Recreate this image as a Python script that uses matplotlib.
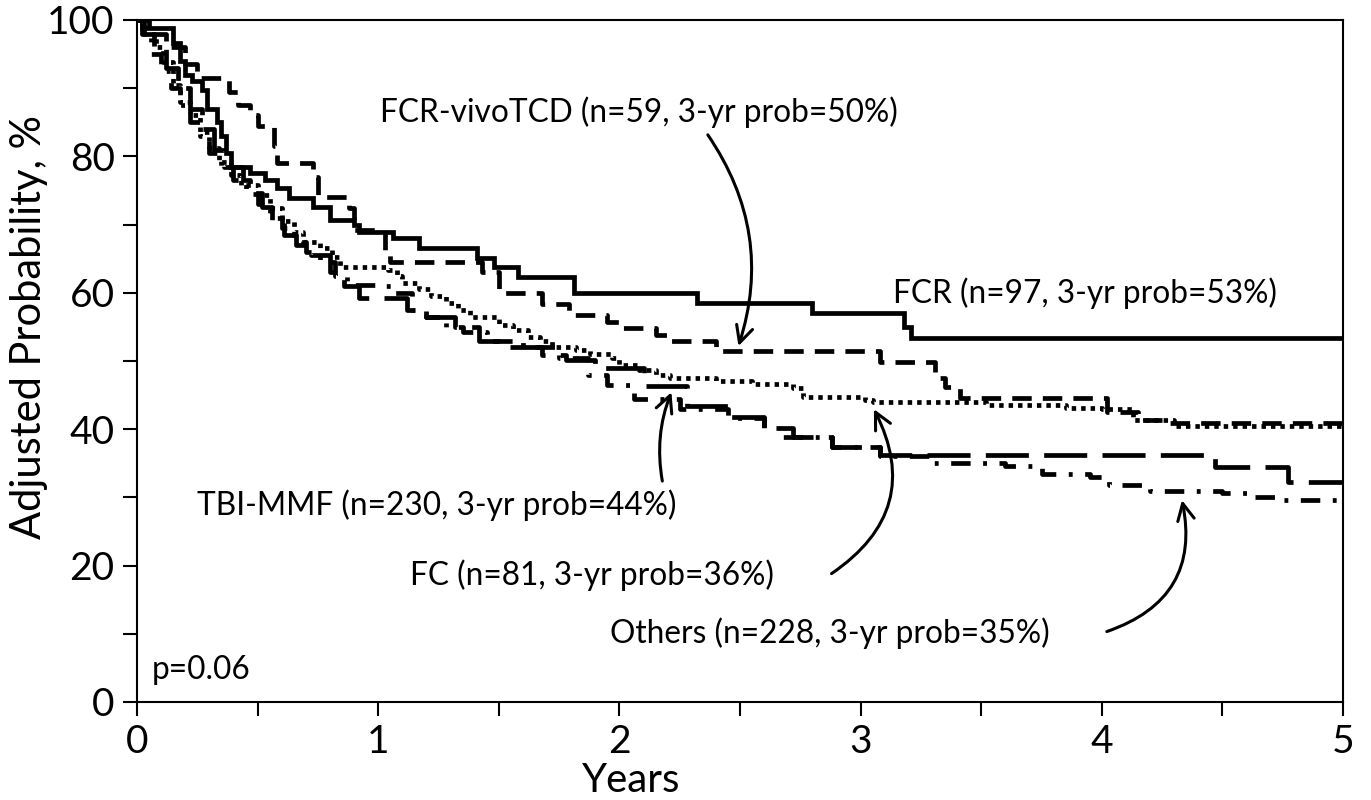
import matplotlib.pyplot as plt
import numpy as np

plt.rcParams['font.family'] = ['Lato', 'DejaVu Sans']
plt.rcParams['lines.scale_dashes'] = False

# Adjusted survival step curves (years, %)
fcr_t = [0, 0.02, 0.15, 0.18, 0.20, 0.23, 0.27, 0.29, 0.33, 0.35, 0.37, 0.39, 0.47, 0.53,
         0.58, 0.63, 0.73, 0.80, 0.90, 0.92, 1.06, 1.17, 1.41, 1.48, 1.58, 1.81, 2.32, 2.80,
         3.18, 3.21]
fcr_p = [100, 98.8, 96.6, 94, 92, 91, 89.7, 87, 85, 83, 80.5, 78.5, 77.6, 76.5,
         75.4, 73.9, 72.6, 70.7, 69.9, 68.9, 68, 66.6, 65.1, 63.8, 62.3, 60, 58.5, 57,
         55, 53.3]

vivo_t = [0, 0.05, 0.12, 0.20, 0.25, 0.38, 0.42, 0.47, 0.50, 0.57, 0.58, 0.73, 0.75, 0.88,
          0.90, 1.03, 1.05, 1.43, 1.50, 1.68, 1.79, 1.95, 2.00, 2.15, 2.21, 2.40, 3.08, 3.31,
          3.35, 3.41, 4.02, 4.15, 4.25]
vivo_p = [100, 98, 96, 93.5, 91.5, 89.5, 87.5, 86, 84.5, 81.5, 79, 77, 74, 72.4,
          69.2, 66.3, 64.5, 63, 60, 58.3, 56.7, 55.7, 54.8, 53.8, 53, 51.5, 49.9, 47.5,
          46.2, 44.6, 42.5, 41.4, 40.9]

tbi_t = [0, 0.02, 0.08, 0.11, 0.15, 0.18, 0.22, 0.26, 0.30, 0.34, 0.39, 0.43, 0.50, 0.55,
         0.60, 0.65, 0.69, 0.76, 0.81, 0.84, 1.04, 1.08, 1.10, 1.17, 1.22, 1.28, 1.33, 1.38,
         1.50, 1.56, 1.62, 1.67, 1.72, 1.82, 1.88, 1.97, 2.00, 2.08, 2.15, 2.21, 2.40, 2.55,
         2.72, 2.76, 3.02, 3.05, 3.52, 3.85, 4.00, 4.13, 4.30]
tbi_p = [100, 98, 96, 93.8, 90.5, 88, 86, 83.6, 81.2, 79.2, 77.3, 75.8, 74.3, 72.4,
         70.5, 68.9, 67.4, 66.5, 65.2, 63.8, 63.3, 62.5, 61.4, 60.5, 59.5, 58.5, 57.5, 56.5,
         55.3, 54.5, 53.5, 53, 52, 51.6, 51, 50.4, 49.4, 48.7, 48, 47.5, 47, 46.6,
         46, 44.7, 44.3, 44, 43.5, 43.1, 42.9, 41.4, 40.5]

fc_t = [0, 0.03, 0.07, 0.12, 0.17, 0.22, 0.27, 0.32, 0.36, 0.44, 0.47, 0.52, 0.56, 0.61,
        0.66, 0.72, 0.80, 0.86, 0.92, 1.12, 1.20, 1.32, 1.42, 1.50, 1.68, 1.78, 1.90, 2.10,
        2.28, 2.45, 2.60, 2.72, 2.88, 3.08, 4.47, 4.77]
fc_p = [100, 98, 96, 93, 90, 87, 84, 81, 78.5, 76.5, 74.6, 72.6, 70.5, 68.5,
        67, 65.5, 63, 61, 59.2, 57.5, 56.5, 55, 53, 52, 50.9, 50.2, 49, 46.3,
        43.4, 41.8, 40.2, 38.8, 37.4, 36.2, 34.4, 32.2]

oth_t = [0, 0.02, 0.06, 0.10, 0.14, 0.18, 0.22, 0.26, 0.30, 0.35, 0.40, 0.45, 0.50, 0.55,
         0.60, 0.65, 0.70, 0.76, 0.82, 0.87, 1.00, 1.07, 1.14, 1.20, 1.28, 1.35, 1.45, 1.60,
         1.75, 1.87, 1.95, 2.06, 2.25, 2.45, 2.60, 2.68, 2.88, 3.08, 3.30, 3.60, 3.75, 3.95,
         4.03, 4.20, 4.50, 4.60, 4.75]
oth_p = [100, 97.5, 95, 92.5, 90, 87.5, 85, 83, 80.5, 78.5, 76.5, 74.5, 73, 71,
         69.5, 67.5, 66, 64.5, 62.5, 61.2, 61, 60, 57.5, 56.5, 55, 54.3, 53, 52,
         50.5, 48, 46.5, 44.5, 43, 41.7, 40.2, 38.8, 37.4, 36, 35, 34.6, 33.5, 33,
         31.8, 31, 30.6, 30.1, 29.6]

t_end = 5.0

fig = plt.figure(figsize=(13.71, 8.0), dpi=100)
ax = fig.add_axes([0.0999, 0.1225, 0.8797, 0.8525])

def km(t, p, **kw):
    ax.step(np.append(t, t_end), np.append(p, p[-1]), where='post', color='black', **kw)

km(fcr_t, fcr_p, lw=3.4, solid_joinstyle='miter')
km(vivo_t, vivo_p, lw=3.4, dashes=(14, 8))
km(tbi_t, tbi_p, lw=3.4, dashes=(3.2, 3.6))
km(fc_t, fc_p, lw=3.4, dashes=(31, 11))
km(oth_t, oth_p, lw=3.4, dashes=(14, 9, 2.8, 9))

ax.set_xlim(0, 5)
ax.set_ylim(0, 100)
ax.set_xticks([0, 1, 2, 3, 4, 5])
ax.set_xticks(np.arange(0, 5.01, 0.5), minor=True)
ax.set_yticks([0, 20, 40, 60, 80, 100])
ax.set_yticks(np.arange(0, 101, 10), minor=True)
ax.tick_params(axis='both', which='both', direction='out', width=1.5, length=10,
               labelsize=28, pad=6)
for s in ax.spines.values():
    s.set_linewidth(1.5)

ax.set_ylabel('Adjusted Probability, %', fontsize=30)
ax.yaxis.set_label_coords(-0.074, 0.55)
ax.set_xlabel('Years', fontsize=29)
ax.xaxis.set_label_coords(0.41, -0.088)

fs = 22.8
ax.text(0.062, 4.7, 'p=0.06', fontsize=fs, va='center')
ax.text(1.007, 86.5, 'FCR-vivoTCD (n=59, 3-yr prob=50%)', fontsize=fs, va='center')
ax.text(3.134, 60.0, 'FCR (n=97, 3-yr prob=53%)', fontsize=fs, va='center')
ax.text(0.249, 28.9, 'TBI-MMF (n=230, 3-yr prob=44%)', fontsize=fs, va='center')
ax.text(1.13, 18.6, 'FC (n=81, 3-yr prob=36%)', fontsize=fs, va='center')
ax.text(1.96, 10.1, 'Others (n=228, 3-yr prob=35%)', fontsize=fs, va='center')

arrow = dict(arrowstyle='->', color='black', lw=2.2, mutation_scale=30)
ax.annotate('', xy=(2.49, 51.8), xytext=(2.36, 83.5),
            arrowprops=dict(connectionstyle='arc3,rad=-0.25', **arrow))
ax.annotate('', xy=(2.22, 45.8), xytext=(2.18, 32.0),
            arrowprops=dict(connectionstyle='arc3,rad=-0.15', **arrow))
ax.annotate('', xy=(3.05, 43.3), xytext=(2.87, 18.6),
            arrowprops=dict(connectionstyle='arc3,rad=0.45', **arrow))
ax.annotate('', xy=(4.33, 30.0), xytext=(4.01, 10.2),
            arrowprops=dict(connectionstyle='arc3,rad=0.45', **arrow))

fig.savefig('out.png', dpi=100)
